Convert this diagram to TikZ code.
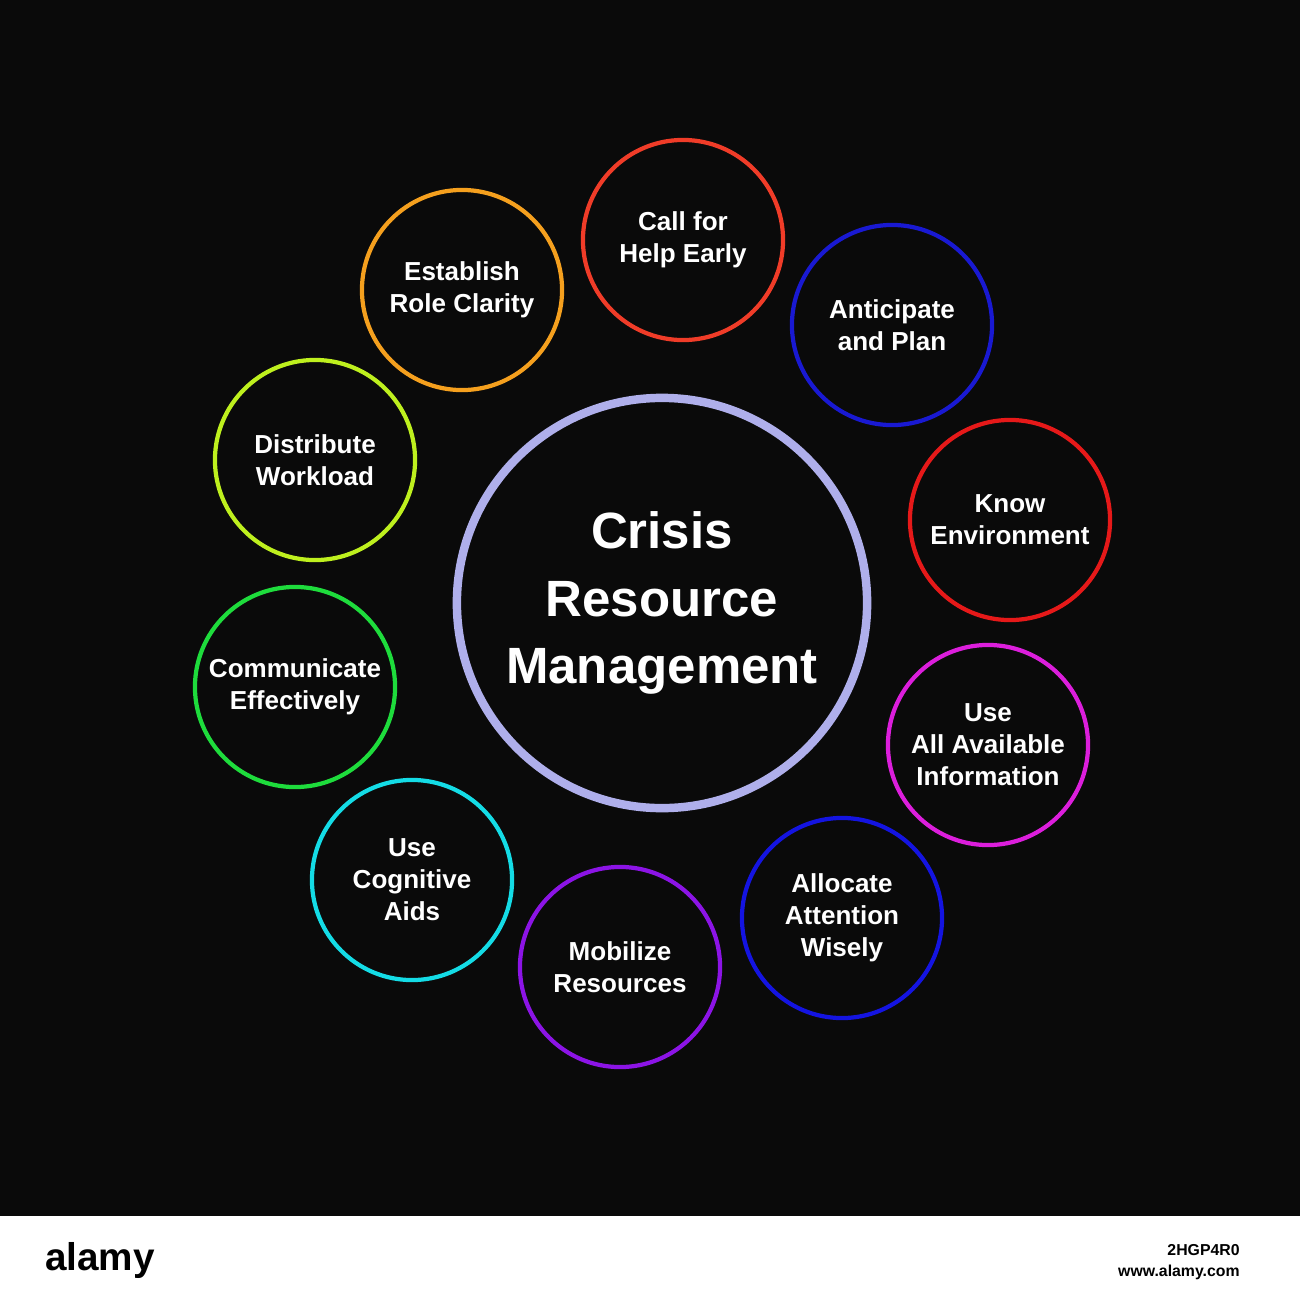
\documentclass[tikz,border=0pt]{standalone}
\usepackage{fontspec}
\setmainfont{Liberation Sans}
\begin{document}
\begin{tikzpicture}[x=0.01cm,y=-0.01cm,
  ring/.style={draw=#1,line width=1.2pt,circle,minimum size=2cm,inner sep=0pt,
    text=white,font=\bfseries\fontsize{7.4}{9.1}\selectfont,align=center}]
\fill[black!96] (0,0) rectangle (1300,1216);
\fill[white] (0,1216) rectangle (1300,1306);
\node[font=\bfseries\fontsize{11}{12}\selectfont,text=black] (brand) at (100,1260) {alamy};
\node[font=\bfseries\fontsize{4.5}{6}\selectfont,text=black,align=right,anchor=east] (ref) at (1252,1262) {2HGP4R0\\www.alamy.com};
\node[draw={rgb,255:red,175;green,175;blue,235},line width=2.4pt,circle,minimum size=4.1cm,inner sep=0pt,
  text=white,font=\bfseries\fontsize{14.5}{19.3}\selectfont,align=center] (c) at (662,603) {Crisis\\Resource\\Management};
\definecolor{c1}{RGB}{240,60,40}
\definecolor{c2}{RGB}{25,25,210}
\definecolor{c3}{RGB}{230,25,25}
\definecolor{c4}{RGB}{220,30,220}
\definecolor{c5}{RGB}{20,20,225}
\definecolor{c6}{RGB}{140,20,230}
\definecolor{c7}{RGB}{20,220,230}
\definecolor{c8}{RGB}{30,220,60}
\definecolor{c9}{RGB}{190,240,30}
\definecolor{c10}{RGB}{245,160,30}
\node[ring=c1] (n1) at (683,240) {Call for\\Help Early};
\node[ring=c2] (n2) at (892,325) {Anticipate\\and Plan};
\node[ring=c3] (n3) at (1010,520) {Know\\Environment};
\node[ring=c4] (n4) at (988,745) {Use\\All Available\\Information};
\node[ring=c5] (n5) at (842,918) {Allocate\\Attention\\Wisely};
\node[ring=c6] (n6) at (620,967) {Mobilize\\Resources};
\node[ring=c7] (n7) at (412,880) {Use\\Cognitive\\Aids};
\node[ring=c8] (n8) at (295,687) {Communicate\\Effectively};
\node[ring=c9] (n9) at (315,460) {Distribute\\Workload};
\node[ring=c10] (n10) at (462,290) {Establish\\Role Clarity};
\end{tikzpicture}
\end{document}
